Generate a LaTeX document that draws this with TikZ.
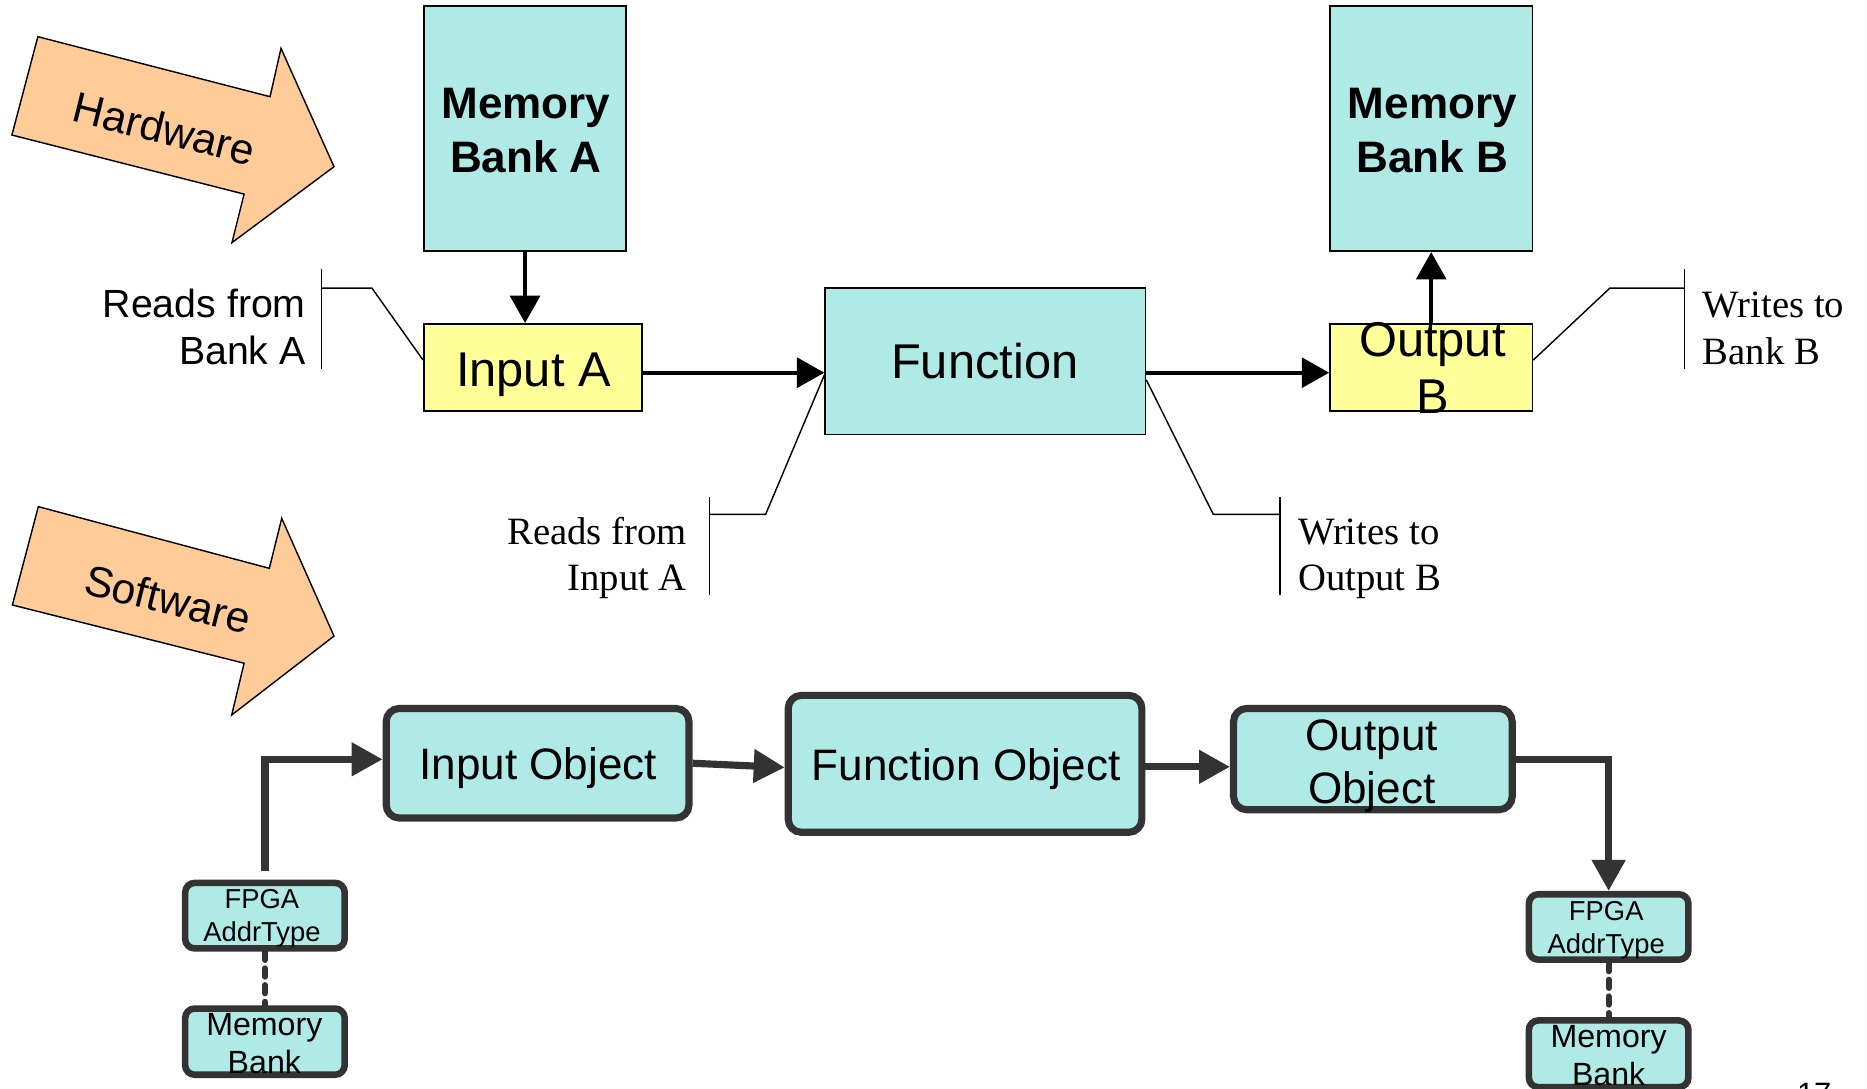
\documentclass[tikz,border=0pt]{standalone}
\usepackage{fontspec}
\setmainfont{Liberation Sans}
\newfontfamily\serifface{Liberation Serif}
\usetikzlibrary{arrows.meta}
\definecolor{peach}{RGB}{255,204,153}
\definecolor{aqua}{RGB}{175,234,231}
\definecolor{lemon}{RGB}{255,255,153}
\definecolor{ink}{RGB}{51,51,51}
\begin{document}
\begin{tikzpicture}[x=1pt,y=-1pt,
  hwbox/.style={draw=black, line width=1.4pt, fill=aqua, inner sep=0pt},
  regbox/.style={draw=black, line width=1.4pt, fill=lemon, inner sep=0pt},
  swbox/.style={draw=ink, line width=6pt, fill=aqua, rounded corners=11pt, inner sep=0pt},
  smallbox/.style={draw=ink, line width=5.5pt, fill=aqua, rounded corners=8pt, inner sep=0pt},
  txt/.style={inner sep=0pt, anchor=base},
  banner/.style={draw=black, line width=1.2pt, fill=peach, line join=miter},
  flow/.style={line width=3.2pt, -{Triangle[length=23pt,width=25pt]}},
  swflow/.style={draw=ink, line width=6pt, -{Triangle[length=26pt,width=27pt]}},
  callout/.style={line width=1.2pt, black},
  link/.style={draw=ink, line width=5pt, dash pattern=on 7pt off 7pt, line cap=round},
  big/.style={font=\fontsize{41}{49}\selectfont},
  mid/.style={font=\fontsize{37}{44}\selectfont},
  note/.style={inner sep=0pt, font=\fontsize{33}{39}\selectfont},
  snote/.style={inner sep=0pt, font=\serifface\fontsize{32.5}{39}\selectfont},
]
\useasboundingbox (0,0) rectangle (1568,914);

% ---------- banners ----------
\draw[banner] (31.8,30.8) -- (226.8,81.2) -- (236,40.6) -- (280.5,140)
  -- (194.8,203.8) -- (205,163) -- (10,113.4) -- cycle;
\node[rotate=-14, font=\fontsize{36}{43}\selectfont] (hw) at (138,108) {Hardware};
\draw[banner] (32.2,425.5) -- (226.2,477.3) -- (236.6,435.3) -- (280.5,534.2)
  -- (194.6,600.5) -- (205,557) -- (10.4,508.1) -- cycle;
\node[rotate=-14, font=\fontsize{36}{43}\selectfont] (sw) at (141,503) {Software};

% ---------- hardware view ----------
\node[hwbox, minimum width=170pt, minimum height=206pt] (memA) at (441,108) {};
\node[hwbox, minimum width=170pt, minimum height=206pt] (memB) at (1202,108) {};
\node[regbox, minimum width=183pt, minimum height=73pt] (inA) at (447.5,308.5) {};
\node[hwbox, minimum width=269pt, minimum height=123pt] (fn) at (827.5,303.5) {};
\node[regbox, minimum width=170pt, minimum height=73pt] (outB) at (1202,308.5) {};

\coordinate (rowY) at (0,313);
\draw[flow] (memA.south) -- (memA.south |- inA.north);
\draw[flow] (inA.east |- rowY) -- (fn.west |- rowY);
\draw[flow] (fn.east |- rowY) -- (outB.west |- rowY);
\draw[flow] (outB.north) -- (memB.south);

\node[txt, font=\bfseries\fontsize{37}{44}\selectfont] (memA1) at (441.7,99.4) {Memory};
\node[txt, font=\bfseries\fontsize{37}{44}\selectfont] (memA2) at (441.7,144.7) {Bank A};
\node[txt, font=\bfseries\fontsize{37}{44}\selectfont] (memB1) at (1203,99.4) {Memory};
\node[txt, font=\bfseries\fontsize{37}{44}\selectfont] (memB2) at (1203,144.7) {Bank B};
\node[txt, big] (inA1) at (448,324.7) {Input A};
\node[txt, big] (fn1) at (827,317.7) {Function};
\node[txt, big] (outB1) at (1203,299.5) {Output};
\node[txt, big] (outB2) at (1203,347) {B};

% callouts
\coordinate (c1a) at (270,242);
\coordinate (c1b) at (312.4,242);
\draw[callout] (270,225.5) -- (270,310);
\draw[callout] (c1a) -- (c1b) -- ([yshift=6.1pt]inA.west);
\node[note, anchor=base east] (c1t1) at (257,267) {Reads from};
\node[note, anchor=base east] (c1t2) at (257,306) {Bank A};

\coordinate (c2a) at (1414.5,242);
\coordinate (c2b) at (1352,242);
\draw[callout] (1414.5,225.5) -- (1414.5,310);
\draw[callout] (c2a) -- (c2b) -- ([yshift=6.1pt]outB.east);
\node[snote, anchor=base west] (c2t1) at (1430,267) {Writes to};
\node[snote, anchor=base west] (c2t2) at (1430,306) {Bank B};

\coordinate (c3a) at (596,432);
\coordinate (c3b) at (643,432);
\draw[callout] (596,417) -- (596,500);
\draw[callout] (c3a) -- (c3b) -- ([yshift=-11.5pt]fn.west);
\node[snote, anchor=base east] (c3t1) at (577,457.7) {Reads from};
\node[snote, anchor=base east] (c3t2) at (577,495.5) {Input A};

\coordinate (c4a) at (1075,432);
\coordinate (c4b) at (1019,432);
\draw[callout] (1075,417) -- (1075,500);
\draw[callout] (c4a) -- (c4b) -- ([yshift=-15.5pt]fn.east);
\node[snote, anchor=base west] (c4t1) at (1090,457.7) {Writes to};
\node[snote, anchor=base west] (c4t2) at (1090,495.5) {Output B};

% ---------- software view ----------
\node[swbox, minimum width=254.3pt, minimum height=92pt] (inObj) at (451.5,641) {};
\node[swbox, minimum width=297pt, minimum height=115pt] (fnObj) at (810.5,641.5) {};
\node[swbox, minimum width=234pt, minimum height=85pt] (outObj) at (1153,637.5) {};
\node[smallbox, minimum width=134pt, minimum height=55pt] (fpgaL) at (222.5,769) {};
\node[smallbox, minimum width=134pt, minimum height=55.6pt] (memL) at (222.5,874.8) {};
\node[smallbox, minimum width=134pt, minimum height=55pt] (fpgaR) at (1351,778.5) {};
\node[smallbox, minimum width=134pt, minimum height=56pt] (memR) at (1351,885) {};

\draw[swflow, shorten <=7pt] (fpgaL.north) |- ([yshift=3.3pt]inObj.west);
\draw[swflow] (inObj.east) -- ([yshift=-3pt]fnObj.west);
\draw[swflow] ([yshift=-2.5pt]fnObj.east) -- ([yshift=-2.5pt]fnObj.east -| outObj.west);
\draw[swflow] (outObj.east) -| (fpgaR.north);
\draw[link] (fpgaL.south) -- (memL.north);
\draw[link] (fpgaR.south) -- (memR.north);

\node[txt, mid] (inObj1) at (452,655) {Input Object};
\node[txt, mid] (fnObj1) at (811.5,655.7) {Function Object};
\node[txt, mid] (outObj1) at (1152,630.5) {Output};
\node[txt, mid] (outObj2) at (1152,675) {Object};
\node[txt, font=\fontsize{23}{28}\selectfont] (fpgaL1) at (220,762.8) {FPGA};
\node[txt, font=\fontsize{23}{28}\selectfont] (fpgaL2) at (220,790.9) {AddrType};
\node[txt, font=\fontsize{27}{32}\selectfont] (memL1) at (222,870) {Memory};
\node[txt, font=\fontsize{27}{32}\selectfont] (memL2) at (222,901.4) {Bank};
\node[txt, font=\fontsize{23}{28}\selectfont] (fpgaR1) at (1349,773) {FPGA};
\node[txt, font=\fontsize{23}{28}\selectfont] (fpgaR2) at (1349,801) {AddrType};
\node[txt, font=\fontsize{27}{32}\selectfont] (memR1) at (1351,880) {Memory};
\begin{scope}
  \clip (0,0) rectangle (1568,914);
  \node[txt, font=\fontsize{27}{32}\selectfont] (memR2) at (1351,911.4) {Bank};
  \node[inner sep=0pt, anchor=base west, font=\fontsize{26}{31}\selectfont] (pageno) at (1509,928) {17};
\end{scope}
\end{tikzpicture}
\end{document}
